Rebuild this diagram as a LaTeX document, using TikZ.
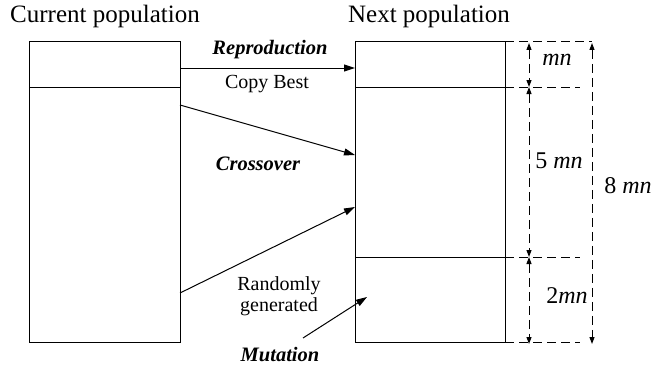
\documentclass[tikz,border=0pt]{standalone}
\usepackage{fontspec}
\setmainfont{Liberation Serif}
\usetikzlibrary{arrows.meta}

\tikzset{
  popbox/.style={draw, line width=1pt},
  flow/.style={-{Triangle[length=11pt,width=7pt]}, line width=1pt},
  guide/.style={line width=1pt, dash pattern=on 9pt off 5pt},
  dimarrow/.style={guide, {Triangle[length=7pt,width=5pt]}-{Triangle[length=7pt,width=5pt]}},
  title/.style={font=\fontsize{25}{28}\selectfont},
  oplabel/.style={font=\fontsize{20.5}{22}\selectfont\bfseries\itshape},
  note/.style={font=\fontsize{20}{21.5}\selectfont, align=center},
  dimlabel/.style={font=\fontsize{24}{26}\selectfont}
}

\begin{document}
\begin{tikzpicture}[x=1pt,y=-1pt]
\useasboundingbox (0,0) rectangle (652,369);

% titles
\node[title] (curtitle) at (105,16) {Current population};
\node[title] (nexttitle) at (429,16) {Next population};

% current population
\draw[popbox] (29,42) rectangle (180,342);
\coordinate (cur-a) at (29,87);
\coordinate (cur-b) at (180,87);
\draw[popbox] (cur-a) -- (cur-b);

% next population
\draw[popbox] (355,42) rectangle (505,342);
\coordinate (nxt-a) at (355,87);
\coordinate (nxt-b) at (505,87);
\coordinate (nxt-c) at (355,257);
\coordinate (nxt-d) at (505,257);
\draw[popbox] (nxt-a) -- (nxt-b);
\draw[popbox] (nxt-c) -- (nxt-d);

% reproduction
\coordinate (rep-s) at (180,68);
\coordinate (rep-t) at (355,68);
\draw[flow] (rep-s) -- (rep-t);
\node[oplabel] (reprod) at (270,50) {Reproduction};
\node[note] (copybest) at (267,84) {Copy Best};

% crossover
\coordinate (cx1-s) at (180,105);
\coordinate (cx1-t) at (355,155);
\coordinate (cx2-s) at (180,293);
\coordinate (cx2-t) at (355,207);
\draw[flow] (cx1-s) -- (cx1-t);
\draw[flow] (cx2-s) -- (cx2-t);
\node[oplabel] (cross) at (258,164) {Crossover};

% mutation
\node[note] (random) at (279,296) {Randomly\\generated};
\coordinate (mut-s) at (303,338);
\coordinate (mut-t) at (367,297);
\draw[flow] (mut-s) -- (mut-t);
\node[oplabel] (mutation) at (280,355) {Mutation};

% sizes
\coordinate (g0-s) at (505,42);  \coordinate (g0-t) at (592,42);
\coordinate (g1-s) at (505,87);  \coordinate (g1-t) at (580,87);
\coordinate (g2-s) at (505,257); \coordinate (g2-t) at (580,257);
\coordinate (g3-s) at (505,342); \coordinate (g3-t) at (580,342);
\draw[guide] (g0-s) -- (g0-t);
\draw[guide] (g1-s) -- (g1-t);
\draw[guide] (g2-s) -- (g2-t);
\draw[guide] (g3-s) -- (g3-t);

\coordinate (d0) at (529,43);
\coordinate (d1) at (529,87);
\coordinate (d2) at (529,257);
\coordinate (d3) at (529,344);
\draw[dimarrow] (d0) -- (d1);
\draw[dimarrow] (d1) -- (d2);
\draw[dimarrow] (d2) -- (d3);
\coordinate (all-s) at (592,43);
\coordinate (all-t) at (592,344);
\draw[dimarrow] (all-s) -- (all-t);

\node[dimlabel] (sz1) at (557,60) {\textit{mn}};
\node[dimlabel] (sz5) at (559,161) {5 \textit{mn}};
\node[dimlabel] (sz2) at (567,296) {2\textit{mn}};
\node[dimlabel, fill=white, inner xsep=1pt] (sz8) at (628,186) {8 \textit{mn}};
\end{tikzpicture}
\end{document}
